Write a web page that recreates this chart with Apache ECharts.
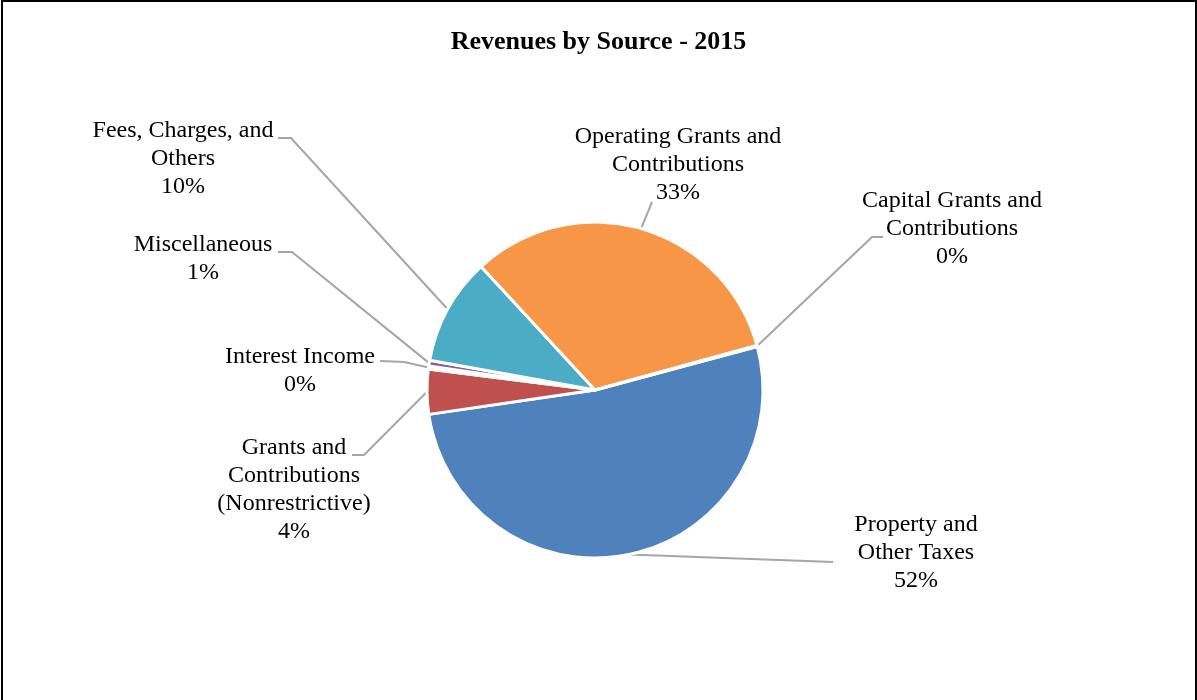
<!DOCTYPE html>
<html>
<head>
<meta charset="utf-8">
<script src="https://cdn.jsdelivr.net/npm/echarts@6/dist/echarts.min.js"></script>
<style>
html,body{margin:0;padding:0;background:#fff;}
#chart{position:absolute;left:0;top:0;width:1197px;height:700px;}
#frame{position:absolute;left:1px;top:0;width:1196px;height:702px;border-left:2px solid #000;border-top:2px solid #000;border-right:2px solid #000;box-sizing:border-box;pointer-events:none;}
</style>
</head>
<body>
<div id="chart"></div>
<div id="frame"></div>
<script>
// ---- data ----
const titleText = 'Revenues by Source - 2015';
const categories = [
  'Property and\nOther Taxes',
  'Grants and\nContributions\n(Nonrestrictive)',
  'Interest Income',
  'Miscellaneous',
  'Fees, Charges, and\nOthers',
  'Operating Grants and\nContributions',
  'Capital Grants and\nContributions'
];
const values = [51.85, 4.3, 0.3, 0.55, 10.3, 32.6, 0.1];
const colors = ['#4F81BD', '#C0504D', '#9BBB59', '#8064A2', '#4BACC6', '#F79646', '#2C4D75'];

// ---- label placement (styling) ----
const labelPos = [
  {x: 916, y: 553, elbow: [833, 562], end: [833, 562]},
  {x: 294, y: 490, elbow: [364, 455], end: [352, 455]},
  {x: 300, y: 371, elbow: [404, 362], end: [380, 361]},
  {x: 203, y: 259, elbow: [292, 252], end: [278, 252]},
  {x: 183, y: 159, elbow: [291, 138], end: [278, 138]},
  {x: 678, y: 165, elbow: [652, 202], end: [652, 202]},
  {x: 952, y: 229, elbow: [872, 237], end: [883, 237]}
];

const chart = echarts.init(document.getElementById('chart'), null, {renderer: 'canvas'});
const option = {
  animation: false,
  backgroundColor: '#ffffff',
  title: {
    text: titleText,
    left: 'center',
    top: 24,
    textStyle: {fontFamily: 'Liberation Serif', fontWeight: 'bold', fontSize: 26, color: '#000'}
  },
  series: [{
    type: 'pie',
    center: [595, 390],
    radius: 168,
    startAngle: 15,
    clockwise: true,
    avoidLabelOverlap: false,
    minAngle: 0,
    itemStyle: {borderColor: '#ffffff', borderWidth: 3},
    label: {
      show: true,
      position: 'outside',
      fontFamily: 'Liberation Serif',
      fontSize: 24,
      lineHeight: 28,
      color: '#000',
      align: 'center',
      formatter: function (p) { return p.name + '\n' + Math.round(p.percent) + '%'; }
    },
    labelLine: {show: true, length: 20, length2: 10, lineStyle: {color: '#A6A6A6', width: 2}},
    labelLayout: function (params) {
      const cfg = labelPos[params.dataIndex];
      const pts = params.labelLinePoints;
      const start = pts ? pts[0] : cfg.elbow;
      return {
        x: cfg.x,
        y: cfg.y,
        align: 'center',
        verticalAlign: 'middle',
        labelLinePoints: [start, cfg.elbow, cfg.end]
      };
    },
    emphasis: {disabled: true},
    data: categories.map(function (c, i) {
      return {name: c, value: values[i], itemStyle: {color: colors[i]}};
    })
  }]
};
chart.setOption(option);
</script>
</body>
</html>
